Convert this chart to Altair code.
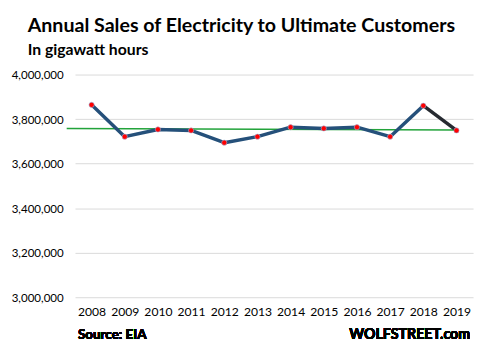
import altair as alt
import pandas as pd

years = [2008, 2009, 2010, 2011, 2012, 2013, 2014, 2015, 2016, 2017, 2018, 2019]
sales = [3864000, 3721000, 3753500, 3749000, 3694000, 3721000,
         3763500, 3758000, 3763500, 3721000, 3860000, 3749000]
trend_x = [2007.25, 2019]
trend_y = [3758000, 3750500]
y_ticks = [3000000, 3200000, 3400000, 3600000, 3800000, 4000000]

FONT = "Lato"

# line segments: blue up to 2018, dark from 2018 to 2019
rows = []
for yr, v in zip(years, sales):
    if yr <= 2018:
        rows.append({"year": yr, "sales": v, "seg": "a"})
    if yr >= 2018:
        rows.append({"year": yr, "sales": v, "seg": "b"})
line_df = pd.DataFrame(rows)
pts_df = pd.DataFrame({"year": years, "sales": sales})
trend_df = pd.DataFrame({"year": trend_x, "sales": trend_y})

xs = alt.Scale(domain=[2007.5, 2019.5], nice=False, zero=False)
ys = alt.Scale(domain=[3000000, 4000000], nice=False, zero=False)

x_enc = alt.X("year:Q", scale=xs, axis=alt.Axis(
    values=years, format="d", title=None, grid=False, domain=False, ticks=False,
    labelFont=FONT, labelFontSize=12.3, labelColor="#000000", labelPadding=9,
    labelFlush=False, labelOverlap=False, labelBound=False))
y_enc = alt.Y("sales:Q", scale=ys, axis=alt.Axis(
    values=y_ticks, format=",d", title=None, domain=False, ticks=False,
    grid=True, gridColor="#d9d9d9", gridWidth=1, labelOverlap=False,
    labelFont=FONT, labelFontSize=11.7, labelColor="#000000", labelPadding=12))

trend = alt.Chart(trend_df).mark_line(color="#22a33a", strokeWidth=1.5, clip=False).encode(
    x=x_enc, y=y_enc)

line = alt.Chart(line_df).mark_line(strokeWidth=3.5, strokeJoin="round").encode(
    x=x_enc,
    y=y_enc,
    color=alt.Color("seg:N", scale=alt.Scale(domain=["a", "b"], range=["#25507a", "#262a30"]), legend=None),
    detail="seg:N")

pts = alt.Chart(pts_df).mark_point(filled=True, size=28, color="#ff0000",
                                   stroke="#9db7e0", strokeWidth=0.6, opacity=1).encode(
    x=x_enc,
    y=y_enc)

src = alt.Chart(pts_df).mark_text(text="Source: EIA", font=FONT, fontSize=13.6, fontWeight="bold",
                                  align="left", baseline="alphabetic", color="#000000").encode(
    x=alt.value(3), y=alt.value(268))
wolf = alt.Chart(pts_df).mark_text(text="WOLFSTREET.com", font=FONT, fontSize=14.4, fontWeight="bold",
                                   align="right", baseline="alphabetic", color="#000000").encode(
    x=alt.value(401), y=alt.value(268))

chart = alt.layer(trend, line, pts, src, wolf).properties(
    width=404, height=226,
    autosize=alt.AutoSizeParams(type="none"),
    padding={"left": 68, "top": 65, "right": 4, "bottom": 50},
    title=alt.TitleParams(
        text="Annual Sales of Electricity to Ultimate Customers",
        subtitle="In gigawatt hours",
        anchor="start", frame="group", dx=-48, offset=12,
        font=FONT, fontSize=19.9, fontWeight="bold", color="#000000",
        subtitleFont=FONT, subtitleFontSize=16, subtitleFontWeight="bold",
        subtitleColor="#000000", subtitlePadding=6),
).configure_view(stroke=None).configure_axisX(labelOverlap=False)

chart.save("out.html", embed_options={"renderer": "svg", "actions": False})
